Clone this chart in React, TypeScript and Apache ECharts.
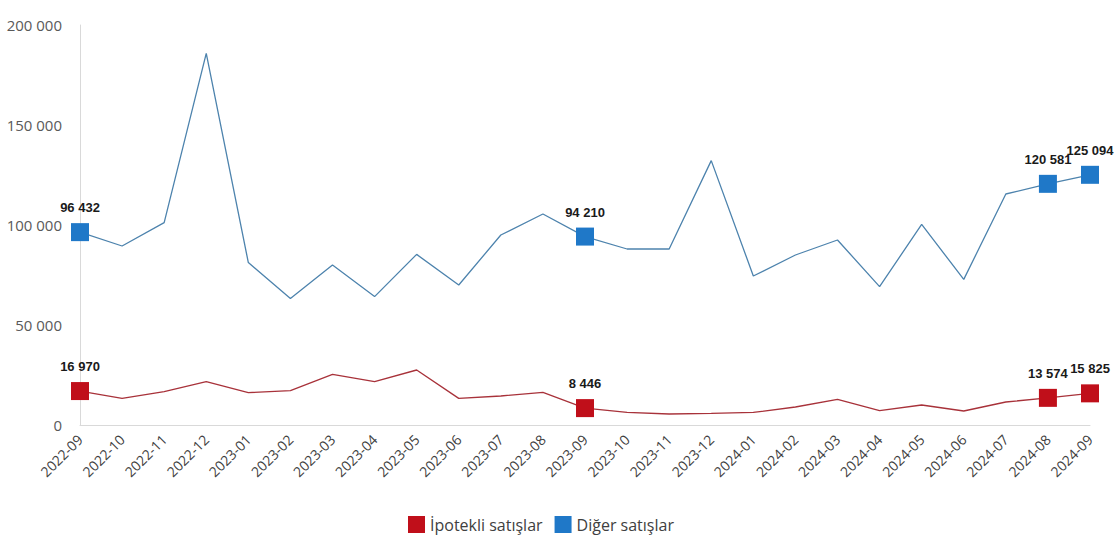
import React, { useEffect, useRef } from "react";
import * as echarts from "echarts";

const categories = [
  "2022-09", "2022-10", "2022-11", "2022-12", "2023-01", "2023-02", "2023-03",
  "2023-04", "2023-05", "2023-06", "2023-07", "2023-08", "2023-09", "2023-10",
  "2023-11", "2023-12", "2024-01", "2024-02", "2024-03", "2024-04", "2024-05",
  "2024-06", "2024-07", "2024-08", "2024-09",
];

const ipotekli = [
  16970, 13300, 16700, 21700, 16200, 17200, 25300, 21700, 27500, 13300, 14500,
  16300, 8446, 6300, 5500, 5800, 6300, 9000, 12800, 7200, 10000, 7000, 11500,
  13574, 15825,
];

const diger = [
  96432, 89500, 101200, 185800, 81200, 63300, 80000, 64200, 85300, 70000, 95000,
  105500, 94210, 88000, 88000, 132200, 74500, 85000, 92500, 69200, 100300, 72800,
  115500, 120581, 125094,
];

const markedIdx = [0, 12, 23, 24];
const yTicks = [0, 50000, 100000, 150000, 200000];

const fmt = (v: number) => String(Math.round(v)).replace(/\B(?=(\d{3})+(?!\d))/g, " ");

const RED = "#c00f1a";
const BLUE = "#1f78c8";

function buildData(values: number[], color: string) {
  return values.map((v, i) => {
    if (markedIdx.includes(i)) {
      return {
        value: v,
        symbol: "rect",
        symbolSize: 18,
        itemStyle: { color },
        label: {
          show: true,
          position: "top",
          distance: 9,
          formatter: (p: any) => fmt(p.value),
          fontFamily: "Liberation Sans, Arial, sans-serif",
          fontWeight: "bold",
          fontSize: 13,
          color: "#1a1a1a",
        },
      };
    }
    return { value: v, symbol: "none", symbolSize: 0 };
  });
}

export default function App() {
  const ref = useRef<HTMLDivElement>(null);
  useEffect(() => {
    if (!ref.current) return;
    const chart = echarts.init(ref.current, null, { renderer: "svg" });
    chart.setOption({
      animation: false,
      backgroundColor: "#ffffff",
      grid: { left: 80, right: 28, top: 25, bottom: 118, containLabel: false },
      legend: {
        top: 511,
        left: 403,
        itemWidth: 17,
        itemHeight: 17,
        itemGap: 12,
        icon: "rect",
        textStyle: { fontFamily: "Open Sans, sans-serif", fontSize: 16, color: "#404040" },
        data: ["İpotekli satışlar", "Diğer satışlar"],
      },
      xAxis: {
        type: "category",
        data: categories,
        boundaryGap: false,
        axisLine: { show: true, lineStyle: { color: "#d9d9d9" } },
        axisTick: { show: false },
        axisLabel: {
          rotate: 45,
          interval: 0,
          margin: 12,
          fontFamily: "Open Sans, sans-serif",
          fontSize: 14,
          color: "#404040",
        },
      },
      yAxis: {
        type: "value",
        min: 0,
        max: 200000,
        interval: 50000,
        axisLine: { show: true, lineStyle: { color: "#d9d9d9" } },
        axisTick: { show: false },
        splitLine: { show: false },
        axisLabel: {
          margin: 18,
          fontFamily: "Open Sans, sans-serif",
          fontSize: 15,
          color: "#595959",
          formatter: (v: number) => (yTicks.includes(v) ? fmt(v) : ""),
        },
      },
      series: [
        {
          name: "İpotekli satışlar",
          type: "line",
          data: buildData(ipotekli, RED),
          symbol: "none",
          lineStyle: { color: "#a8323a", width: 1.3 },
          itemStyle: { color: RED },
          z: 3,
        },
        {
          name: "Diğer satışlar",
          type: "line",
          data: buildData(diger, BLUE),
          symbol: "none",
          lineStyle: { color: "#4d83ad", width: 1.3 },
          itemStyle: { color: BLUE },
          z: 2,
        },
      ],
    });
    return () => chart.dispose();
  }, []);
  return (
    <div
      ref={ref}
      style={{ position: "absolute", left: 0, top: 0, width: 1118, height: 543 }}
    />
  );
}
